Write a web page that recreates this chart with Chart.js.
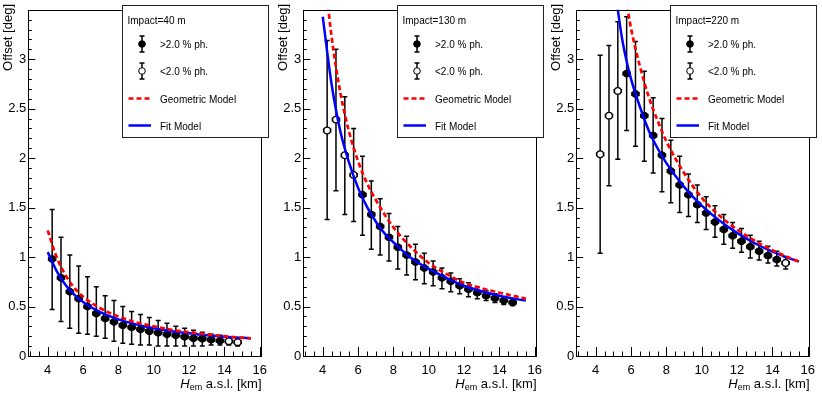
<!DOCTYPE html>
<html>
<head>
<meta charset="utf-8">
<script src="https://cdn.jsdelivr.net/npm/chart.js@4.4.1/dist/chart.umd.min.js"></script>
<style>
  html, body { margin: 0; padding: 0; background: #fff; }
  #wrap { position: relative; width: 822px; height: 395px; }
  .pane { position: absolute; top: 0; width: 274px; height: 395px; }
</style>
</head>
<body>
<div id="wrap">
  <div class="pane" style="left:0px"><canvas id="c40" width="274" height="395"></canvas></div>
  <div class="pane" style="left:275px"><canvas id="c130" width="274" height="395"></canvas></div>
  <div class="pane" style="left:548px"><canvas id="c220" width="274" height="395"></canvas></div>
</div>
<script>
// emission height bins [km]
const hem = [4.25, 4.75, 5.25, 5.75, 6.25, 6.75, 7.25, 7.75, 8.25, 8.75, 9.25,
             9.75, 10.25, 10.75, 11.25, 11.75, 12.25, 12.75, 13.25, 13.75, 14.25, 14.75];
const hemErr = 0.2;

// impact 40 m
const off40 = [0.98, 0.79, 0.65, 0.58, 0.50, 0.43, 0.38, 0.345, 0.31, 0.29, 0.27,
               0.25, 0.235, 0.22, 0.21, 0.195, 0.18, 0.175, 0.165, 0.155, 0.15, 0.14];
const hi40 = [1.48, 1.20, 1.02, 0.91, 0.80, 0.70, 0.61, 0.56, 0.50, 0.45, 0.42,
              0.39, 0.36, 0.33, 0.30, 0.28, 0.26, 0.24, 0.22, 0.21, 0.19, 0.18];
const lo40 = [0.47, 0.35, 0.28, 0.23, 0.22, 0.20, 0.18, 0.15, 0.13, 0.12, 0.11,
              0.11, 0.10, 0.10, 0.10, 0.10, 0.10, 0.10, 0.11, 0.11, 0.11, 0.10];
const open40 = [20, 21];
const geoX40 = [4, 4.5, 5, 5.5, 6, 7, 8, 9, 10, 11, 12, 13, 14, 15, 15.5];
const geo40 = [1.27, 1.0, 0.82, 0.69, 0.60, 0.48, 0.40, 0.34, 0.30, 0.265, 0.24, 0.22, 0.20, 0.185, 0.178];
const fitX40 = [4, 4.5, 5, 5.5, 6, 7, 8, 9, 10, 11, 12, 13, 14, 15, 15.5];
const fit40 = [1.05, 0.86, 0.72, 0.62, 0.545, 0.44, 0.37, 0.32, 0.28, 0.25, 0.23, 0.21, 0.195, 0.185, 0.18];

// impact 130 m
const off130 = [2.28, 2.39, 2.03, 1.83, 1.63, 1.43, 1.31, 1.20, 1.10, 1.02, 0.95,
                0.89, 0.85, 0.79, 0.755, 0.71, 0.675, 0.64, 0.61, 0.585, 0.56, 0.54];
const hi130 = [3.19, 3.10, 2.62, 2.30, 2.02, 1.77, 1.59, 1.44, 1.31, 1.21, 1.13,
               1.04, 0.96, 0.89, 0.84, 0.78, 0.74, 0.70, 0.66, 0.63, 0.60, 0.57];
const lo130 = [1.38, 1.67, 1.43, 1.36, 1.22, 1.08, 1.02, 0.96, 0.88, 0.82, 0.77,
               0.73, 0.71, 0.68, 0.65, 0.63, 0.60, 0.58, 0.56, 0.54, 0.52, 0.51];
const open130 = [0, 1, 2, 3];
const geoX130 = [4.2, 4.5, 5, 5.5, 6, 6.5, 7, 8, 9, 10, 11, 12, 13, 14, 15, 15.5];
const geo130 = [3.7, 3.23, 2.66, 2.26, 1.97, 1.75, 1.58, 1.30, 1.10, 0.94, 0.83, 0.74, 0.685, 0.64, 0.60, 0.58];
const fitX130 = [4, 4.5, 5, 5.5, 6, 6.5, 7, 7.5, 8, 9, 10, 11, 12, 13, 14, 15, 15.5];
const fit130 = [3.43, 2.75, 2.27, 1.95, 1.70, 1.51, 1.36, 1.24, 1.15, 0.99, 0.88, 0.79, 0.71, 0.655, 0.61, 0.575, 0.56];

// impact 220 m
const off220 = [2.04, 2.43, 2.68, 2.855, 2.65, 2.43, 2.23, 2.03, 1.87, 1.73, 1.63,
                1.53, 1.445, 1.355, 1.28, 1.215, 1.16, 1.105, 1.06, 1.015, 0.975, 0.94];
const hi220 = [3.04, 3.14, 3.38, 3.43, 3.18, 2.88, 2.61, 2.40, 2.18, 2.02, 1.84,
               1.73, 1.61, 1.52, 1.43, 1.35, 1.29, 1.22, 1.16, 1.11, 1.06, 1.00];
const lo220 = [1.04, 1.72, 1.99, 2.28, 2.12, 1.97, 1.85, 1.66, 1.55, 1.45, 1.41,
               1.35, 1.28, 1.20, 1.13, 1.09, 1.05, 0.99, 0.97, 0.94, 0.91, 0.88];
const open220 = [0, 1, 2, 21];
const geoX220 = [5.7, 6, 6.5, 7, 7.5, 8, 9, 10, 11, 12, 13, 14, 15, 15.5];
const geo220 = [3.62, 3.31, 2.93, 2.62, 2.38, 2.17, 1.85, 1.60, 1.42, 1.28, 1.165, 1.07, 0.99, 0.955];
const fitX220 = [5.2, 5.5, 5.75, 6, 6.5, 7, 7.5, 8, 9, 10, 11, 12, 13, 14, 15, 15.5];
const fit220 = [3.56, 3.2, 2.98, 2.80, 2.52, 2.28, 2.10, 1.95, 1.71, 1.52, 1.37, 1.245, 1.14, 1.055, 0.985, 0.955];

const xTicks = [4, 6, 8, 10, 12, 14, 16];
const yTicks = [0, 0.5, 1, 1.5, 2, 2.5, 3];
const FONT = '"Liberation Sans", Arial, Helvetica, sans-serif';

const errorBars = {
  id: 'errorBars',
  beforeDatasetsDraw(chart) {
    const ctx = chart.ctx, xs = chart.scales.x, ys = chart.scales.y;
    ctx.save();
    ctx.strokeStyle = '#000';
    ctx.lineWidth = 1.5;
    chart.data.datasets.forEach((ds) => {
      if (!ds.errHi) return;
      ds.data.forEach((p, i) => {
        const px = xs.getPixelForValue(p.x);
        const py = ys.getPixelForValue(p.y);
        const top = ys.getPixelForValue(ds.errHi[i]);
        const bot = ys.getPixelForValue(ds.errLo[i]);
        const l = xs.getPixelForValue(p.x - hemErr);
        const r = xs.getPixelForValue(p.x + hemErr);
        ctx.beginPath();
        ctx.moveTo(px, top); ctx.lineTo(px, bot);
        ctx.moveTo(px - 2.5, top); ctx.lineTo(px + 2.5, top);
        ctx.moveTo(px - 2.5, bot); ctx.lineTo(px + 2.5, bot);
        ctx.moveTo(l, py); ctx.lineTo(r, py);
        ctx.moveTo(l, py - 2); ctx.lineTo(l, py + 2);
        ctx.moveTo(r, py - 2); ctx.lineTo(r, py + 2);
        ctx.stroke();
      });
    });
    ctx.restore();
  }
};

const frameAndLegend = {
  id: 'frameAndLegend',
  afterDraw(chart, args, opts) {
    const ctx = chart.ctx, a = chart.chartArea;
    const xs = chart.scales.x, ys = chart.scales.y;
    ctx.save();
    ctx.strokeStyle = '#000';
    ctx.lineWidth = 1;
    ctx.strokeRect(Math.round(a.left) + 0.5, Math.round(a.top) + 0.5,
                   Math.round(a.right - a.left), Math.round(a.bottom - a.top));
    // inward ticks
    ctx.beginPath();
    for (let v = 3; v <= 16.001; v += 0.5) {
      const px = Math.round(xs.getPixelForValue(v)) + 0.5;
      const len = (v % 2 === 0) ? 9 : 4.5;
      ctx.moveTo(px, a.bottom); ctx.lineTo(px, a.bottom - len);
    }
    for (let k = 0; k <= 35; k++) {
      const py = Math.round(ys.getPixelForValue(k / 10)) + 0.5;
      const len = (k % 5 === 0) ? 7 : 3.5;
      ctx.moveTo(a.left, py); ctx.lineTo(a.left + len, py);
    }
    ctx.stroke();

    // axis titles
    ctx.fillStyle = '#000';
    ctx.textBaseline = 'alphabetic';
    ctx.save();
    ctx.translate(12, 4);
    ctx.rotate(-Math.PI / 2);
    ctx.textAlign = 'right';
    ctx.font = '13px ' + FONT;
    ctx.fillText('Offset [deg]', 0, 0);
    ctx.restore();

    ctx.textAlign = 'left';
    const rest = ' a.s.l. [km]';
    ctx.font = '13px ' + FONT;
    const wRest = ctx.measureText(rest).width;
    ctx.font = '9px ' + FONT;
    const wSub = ctx.measureText('em').width;
    ctx.font = 'italic 13px ' + FONT;
    const wH = ctx.measureText('H').width;
    let tx = a.right - wRest - wSub - wH;
    const by = 388;
    ctx.fillText('H', tx, by); tx += wH;
    ctx.font = '9px ' + FONT;
    ctx.fillText('em', tx, by + 2); tx += wSub;
    ctx.font = '13px ' + FONT;
    ctx.fillText(rest, tx, by);

    // legend box
    const L = 122.5, T = 5.5, W = 146, H = 132;
    ctx.fillStyle = '#fff';
    ctx.fillRect(L, T, W, H);
    ctx.strokeStyle = '#222';
    ctx.strokeRect(L, T, W, H);
    ctx.fillStyle = '#000';
    ctx.font = '10px ' + FONT;
    ctx.textBaseline = 'middle';
    ctx.fillText(opts.title, 127.5, 21);
    const mx = 142;
    [[44, true], [71, false]].forEach(([my, filled]) => {
      ctx.strokeStyle = '#000';
      ctx.lineWidth = 1.5;
      ctx.beginPath();
      ctx.moveTo(mx, my - 8); ctx.lineTo(mx, my + 8);
      ctx.moveTo(mx - 2.5, my - 8); ctx.lineTo(mx + 2.5, my - 8);
      ctx.moveTo(mx - 2.5, my + 8); ctx.lineTo(mx + 2.5, my + 8);
      ctx.stroke();
      ctx.beginPath();
      ctx.arc(mx, my, 3.3, 0, Math.PI * 2);
      ctx.fillStyle = filled ? '#000' : '#fff';
      ctx.fill();
      ctx.lineWidth = 1;
      ctx.stroke();
    });
    ctx.lineWidth = 2.7;
    ctx.strokeStyle = '#ff0000';
    ctx.setLineDash([5, 3]);
    ctx.beginPath(); ctx.moveTo(128.5, 98.5); ctx.lineTo(151, 98.5); ctx.stroke();
    ctx.setLineDash([]);
    ctx.strokeStyle = '#0000ff';
    ctx.lineWidth = 2.5;
    ctx.beginPath(); ctx.moveTo(128.5, 125.5); ctx.lineTo(151, 125.5); ctx.stroke();
    ctx.fillStyle = '#000';
    ctx.fillText('>2.0 % ph.', 160, 45);
    ctx.fillText('<2.0 % ph.', 160, 72);
    ctx.fillText('Geometric Model', 160, 100);
    ctx.fillText('Fit Model', 160, 127);
    ctx.restore();
  }
};

function makePanel(canvasId, title, off, hi, lo, openIdx, geoX, geo, fitX, fit) {
  const filled = { hi: [], lo: [], pts: [] };
  const empty = { hi: [], lo: [], pts: [] };
  hem.forEach((x, i) => {
    const t = openIdx.includes(i) ? empty : filled;
    t.pts.push({ x: x, y: off[i] });
    t.hi.push(hi[i]);
    t.lo.push(lo[i]);
  });

  new Chart(document.getElementById(canvasId).getContext('2d'), {
    type: 'scatter',
    data: {
      datasets: [
        {
          type: 'line', label: 'Geometric Model',
          data: geoX.map((x, i) => ({ x: x, y: geo[i] })),
          borderColor: '#ff0000', borderWidth: 2.7, borderDash: [5, 3],
          pointRadius: 0, cubicInterpolationMode: 'monotone', order: 0,
        },
        {
          type: 'line', label: 'Fit Model',
          data: fitX.map((x, i) => ({ x: x, y: fit[i] })),
          borderColor: '#0000ff', borderWidth: 2.5,
          pointRadius: 0, cubicInterpolationMode: 'monotone', order: 0,
        },
        {
          label: '>2.0 % ph.', data: filled.pts, errHi: filled.hi, errLo: filled.lo,
          pointRadius: 3.5, backgroundColor: '#000', borderColor: '#000', borderWidth: 1, order: 1,
        },
        {
          label: '<2.0 % ph.', data: empty.pts, errHi: empty.hi, errLo: empty.lo,
          pointRadius: 3.3, backgroundColor: '#fff', borderColor: '#000', borderWidth: 1.2, order: 1,
        },
      ],
    },
    options: {
      responsive: false,
      animation: false,
      devicePixelRatio: 1,
      layout: { padding: { top: 7.4, right: 6.5, left: 0, bottom: 0 } },
      plugins: {
        legend: { display: false },
        tooltip: { enabled: false },
        frameAndLegend: { title: title },
      },
      scales: {
        x: {
          type: 'linear', min: 2.9, max: 16.1,
          grid: { display: false, drawTicks: false },
          border: { display: false },
          afterBuildTicks: (s) => { s.ticks = xTicks.map((v) => ({ value: v })); },
          afterFit: (s) => { s.height = 39; },
          ticks: { color: '#000', padding: 7, maxRotation: 0, font: { family: FONT, size: 13 } },
        },
        y: {
          type: 'linear', min: 0, max: 3.5,
          grid: { display: false, drawTicks: false },
          border: { display: false },
          afterBuildTicks: (s) => { s.ticks = yTicks.map((v) => ({ value: v })); },
          afterFit: (s) => { s.width = 28.3; },
          ticks: { color: '#000', padding: 2, callback: (v) => String(v), font: { family: FONT, size: 13 } },
        },
      },
    },
    plugins: [errorBars, frameAndLegend],
  });
}

document.addEventListener('DOMContentLoaded', function() {
  makePanel('c40', 'Impact=40 m', off40, hi40, lo40, open40, geoX40, geo40, fitX40, fit40);
  makePanel('c130', 'Impact=130 m', off130, hi130, lo130, open130, geoX130, geo130, fitX130, fit130);
  makePanel('c220', 'Impact=220 m', off220, hi220, lo220, open220, geoX220, geo220, fitX220, fit220);
});
</script>
</body>
</html>
